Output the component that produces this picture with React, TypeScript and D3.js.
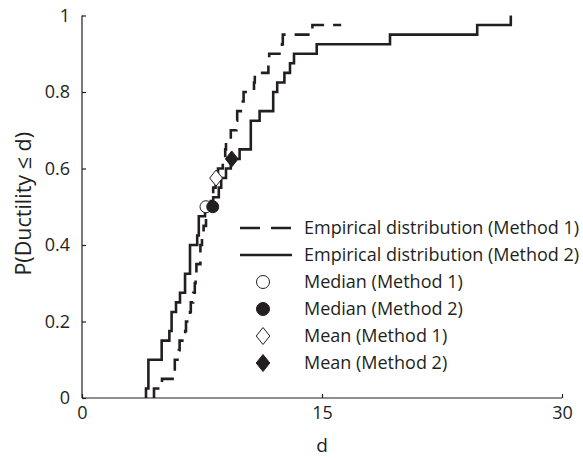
import React, { useEffect, useRef } from 'react';
import * as d3 from 'd3';

// Empirical CDF jump positions (ductility d), each step adds 1/40
const method1Jumps = [
  4.5, 5.0, 5.8, 5.8, 6.05, 6.1, 6.45, 6.5, 6.75, 6.8,
  6.95, 7.05, 7.1, 7.15, 7.4, 7.4, 7.5, 7.6, 7.75, 7.85,
  8.05, 8.2, 8.35, 8.5, 8.8, 8.95, 9.0, 9.3, 9.65, 9.7,
  10.05, 10.1, 10.75, 10.8, 11.65, 11.7, 12.5, 12.55, 14.4,
];
const method1End = 16.2;

const method2Jumps = [
  4.0, 4.15, 4.15, 4.15, 4.98, 4.98, 5.46, 5.6, 5.6, 5.875,
  6.125, 6.44, 6.44, 6.75, 6.75, 6.75, 7.2, 7.3, 7.3, 7.69,
  8.2, 8.55, 8.7, 9.0, 9.3, 9.85, 10.55, 10.55, 10.55, 11.1,
  11.95, 11.95, 12.2, 12.65, 13.0, 13.25, 14.67, 19.25, 24.7, 26.8,
];
const sampleCount = 40;

const medianD = [7.75, 8.17];
const medianP = [0.5, 0.5];
const meanD = [8.38, 9.36];
const meanP = [0.575, 0.625];

const yTicks = [0, 0.2, 0.4, 0.6, 0.8, 1];
const xTicks = [0, 15, 30];

const legendLabels = [
  'Empirical distribution (Method 1)',
  'Empirical distribution (Method 2)',
  'Median (Method 1)',
  'Median (Method 2)',
  'Mean (Method 1)',
  'Mean (Method 2)',
];

const App = () => {
  const svgRef = useRef(null);

  useEffect(() => {
    const width = 583;
    const height = 460;
    const ink = '#231f20';
    const font = '"Open Sans", sans-serif';

    const svg = d3.select(svgRef.current);
    svg.selectAll('*').remove();
    svg.attr('width', width).attr('height', height);

    const x = d3.scaleLinear().domain([0, 30]).range([82, 562]);
    const y = d3.scaleLinear().domain([0, 1]).range([398, 15.5]);

    // axes
    const xAxis = d3.axisBottom(x).tickValues(xTicks).tickSize(-4).tickPadding(8).tickFormat(d3.format('d'));
    const gx = svg.append('g').attr('transform', `translate(0,${y(0)})`).call(xAxis);
    gx.select('.domain').attr('stroke', ink).attr('stroke-width', 1.2).attr('d', `M${x(0)},0H${x(30)}`);
    gx.selectAll('.tick line').attr('stroke', ink).attr('stroke-width', 1.2);
    gx.selectAll('text').attr('fill', ink).style('font-family', font).style('font-size', '18px');

    const yAxis = d3.axisLeft(y).tickValues(yTicks).tickSize(-4).tickPadding(12).tickFormat(d => String(d));
    const gy = svg.append('g').attr('transform', `translate(${x(0)},0)`).call(yAxis);
    gy.select('.domain').attr('stroke', ink).attr('stroke-width', 1.2).attr('d', `M0,${y(0)}V${y(1)}`);
    gy.selectAll('.tick line').attr('stroke', ink).attr('stroke-width', 1.2);
    gy.selectAll('text').attr('fill', ink).style('font-family', font).style('font-size', '18px');

    svg.append('text')
      .attr('x', x(15))
      .attr('y', 452)
      .attr('text-anchor', 'middle')
      .attr('fill', ink)
      .style('font-family', font)
      .style('font-size', '19px')
      .text('d');

    svg.append('text')
      .attr('transform', `translate(31,${(y(0) + y(1)) / 2 - 3}) rotate(-90)`)
      .attr('text-anchor', 'middle')
      .attr('fill', ink)
      .style('font-family', font)
      .style('font-size', '21.5px')
      .text('P(Ductility \u2264 d)');

    // empirical step curves
    const toPoints = (jumps, end) => {
      const pts = [[jumps[0], 0]];
      jumps.forEach((d, i) => pts.push([d, (i + 1) / sampleCount]));
      if (end !== undefined) pts.push([end, jumps.length / sampleCount]);
      return pts;
    };

    const line = d3.line()
      .x(d => x(d[0]))
      .y(d => y(d[1]))
      .curve(d3.curveStepAfter);

    svg.append('path')
      .datum(toPoints(method1Jumps, method1End))
      .attr('fill', 'none')
      .attr('stroke', ink)
      .attr('stroke-width', 2.6)
      .attr('stroke-dasharray', '15 9')
      .attr('d', line);

    svg.append('path')
      .datum(toPoints(method2Jumps))
      .attr('fill', 'none')
      .attr('stroke', ink)
      .attr('stroke-width', 2.6)
      .attr('d', line);

    const diamond = (cx, cy, r) => `M${cx},${cy - r}L${cx + r * 0.8},${cy}L${cx},${cy + r}L${cx - r * 0.8},${cy}Z`;

    // markers
    svg.append('circle').attr('cx', x(medianD[0])).attr('cy', y(medianP[0])).attr('r', 6)
      .attr('fill', 'white').attr('stroke', ink).attr('stroke-width', 1);
    svg.append('circle').attr('cx', x(medianD[1])).attr('cy', y(medianP[1])).attr('r', 6)
      .attr('fill', ink).attr('stroke', ink).attr('stroke-width', 1);
    svg.append('path').attr('d', diamond(x(meanD[0]), y(meanP[0]), 8))
      .attr('fill', 'white').attr('stroke', ink).attr('stroke-width', 1);
    svg.append('path').attr('d', diamond(x(meanD[1]), y(meanP[1]), 8))
      .attr('fill', ink).attr('stroke', ink).attr('stroke-width', 1);

    // legend
    const legendX = 240;
    const legendTop = 228;
    const rowGap = 27;
    const lg = svg.append('g');
    legendLabels.forEach((label, i) => {
      const ly = legendTop + i * rowGap;
      if (i < 2) {
        lg.append('line')
          .attr('x1', legendX).attr('x2', legendX + 52)
          .attr('y1', ly).attr('y2', ly)
          .attr('stroke', ink).attr('stroke-width', 2.6)
          .attr('stroke-dasharray', i === 0 ? '20 11' : null);
      } else if (i < 4) {
        lg.append('circle').attr('cx', legendX + 23).attr('cy', ly).attr('r', 6.5)
          .attr('fill', i === 2 ? 'white' : ink).attr('stroke', ink).attr('stroke-width', 1);
      } else {
        lg.append('path').attr('d', diamond(legendX + 23, ly, 8.5))
          .attr('fill', i === 4 ? 'white' : ink).attr('stroke', ink).attr('stroke-width', 1);
      }
      lg.append('text')
        .attr('x', legendX + 64)
        .attr('y', ly)
        .attr('dy', '0.35em')
        .attr('fill', ink)
        .style('font-family', font)
        .style('font-size', '18px')
        .text(label);
    });
  }, []);

  return (
    <svg ref={svgRef} style={{ position: 'absolute', left: 0, top: 0 }}></svg>
  );
};

export default App;
